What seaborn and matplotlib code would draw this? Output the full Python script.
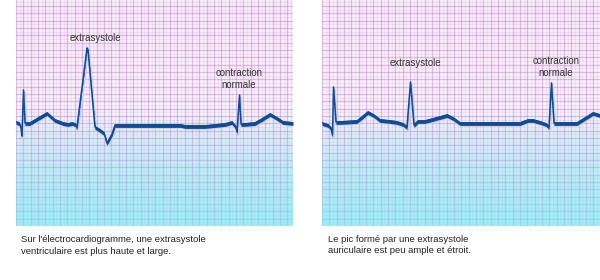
import numpy as np
import pandas as pd
import matplotlib
matplotlib.use("Agg")
import matplotlib.pyplot as plt
import matplotlib.transforms as mtransforms
from matplotlib.colors import LinearSegmentedColormap
from matplotlib.ticker import MultipleLocator, FixedLocator
import seaborn as sns

# ---- data (time and amplitude, in chart-paper pixels; amplitude relative to baseline) ----
t_ventricular = [0, 3, 5, 6, 7.5, 9, 10, 14, 24, 31, 39, 47, 52, 56, 59, 61, 71, 72, 79, 84, 88,
                 91, 96, 99, 101, 105, 165, 169, 189, 209, 216, 220, 221, 223.5, 225, 228,
                 239, 246, 254, 261, 267, 277]
a_ventricular = [1, 0, -4, -13, 33, 0, 0, 0, 6, 10, 3, 0, -1, 0, -1, -4, 75, 73, -4, -7, -10,
                 -20, -11, -2, -2, -2, -2, -3, -3, -1, 1, -4, -9, 28, -1, -1,
                 0, 4, 9, 5, 1, 0]

t_auricular = [0, 6, 9, 10.5, 11.5, 14, 18, 35, 40, 46, 53, 58, 68, 75, 81, 85, 88.5, 92, 96,
               103, 118, 125, 131, 138, 198, 206, 211, 218, 224, 227, 229.5, 232, 235, 255,
               263, 271, 278]
a_auricular = [0, -2, -5, -12, 36, 1, 1, 2, 6, 11, 7, 3, 2, 1, -1, -4, 41, -2, 2,
               2, 6, 8, 5, 0, 0, 3, 3, 1, -1, -4, 40, 0, 0, 0,
               5, 10, 8]

labels_extra = ["extrasystole", "extrasystole"]
labels_normal = ["contraction\nnormale", "contraction\nnormale"]
captions = ["Sur l'électrocardiogramme, une extrasystole\nventriculaire est plus haute et large.",
            "Le pic formé par une extrasystole\nauriculaire est peu ample et étroit."]

# ---- style ----
sns.set_style("white")
plt.rcParams['font.family'] = ['Liberation Sans', 'DejaVu Sans']

W, H, DPI = 600, 280, 100
fig = plt.figure(figsize=(W / DPI, H / DPI), dpi=DPI)

bg_cmap = LinearSegmentedColormap.from_list(
    "ecgbg",
    [(0.0, "#fcf0fc"), (0.40, "#fdf5fd"), (0.50, "#f8f7fd"), (0.58, "#e8f4fd"),
     (0.72, "#cef2fc"), (1.0, "#96f2f9")])

LINE = "#164a8e"
SHADOW = "#c4d0e6"

panels = [
    dict(left=16, width=277, t=t_ventricular, a=a_ventricular,
         extra=(79, 85), normal=(223, 44)),
    dict(left=322, width=278, t=t_auricular, a=a_auricular,
         extra=(93, 60), normal=(234, 56)),
]

YTOP, YBOT = 123, -103  # amplitude range visible (pixels above/below baseline)

# cyan veil over the lower grid so its lines turn lavender-blue
ramp = np.clip((np.linspace(0, 1, 256) - 0.5) / 0.5, 0, 1)
veil = np.zeros((256, 1, 4))
veil[..., 0] = 0.62
veil[..., 1] = 0.95
veil[..., 2] = 0.98
veil[..., 3] = (0.45 * ramp).reshape(-1, 1)

for i, p in enumerate(panels):
    ax = fig.add_axes([p["left"] / W, 54 / H, p["width"] / W, 226 / H])
    ax.set_xlim(0, p["width"])
    ax.set_ylim(YBOT, YTOP)

    grad = np.linspace(0, 1, 256).reshape(-1, 1)
    ax.imshow(grad, aspect="auto", cmap=bg_cmap, extent=[0, p["width"], YBOT, YTOP],
              origin="upper", zorder=0, interpolation="bilinear")
    ax.imshow(veil, aspect="auto", extent=[0, p["width"], YBOT, YTOP],
              origin="upper", zorder=1, interpolation="bilinear")

    step = 7.33
    ax.xaxis.set_major_locator(MultipleLocator(step))
    ax.xaxis.set_minor_locator(MultipleLocator(step / 2))
    yt = YTOP + 1.3 - step * np.arange(0, 32)
    ax.yaxis.set_major_locator(FixedLocator(yt))
    ax.yaxis.set_minor_locator(FixedLocator(yt - step / 2))
    ax.grid(True, which="major", color="#b070c0", alpha=0.40, linewidth=1.0)
    ax.grid(True, which="minor", color="#c890d0", alpha=0.18, linewidth=0.9)
    ax.set_axisbelow(True)
    ax.tick_params(which="both", length=0, labelbottom=False, labelleft=False)
    for s in ax.spines.values():
        s.set_visible(False)

    df = pd.DataFrame({"t": p["t"], "a": p["a"]})
    sh = mtransforms.offset_copy(ax.transData, fig=fig, x=0.6, y=-1.8, units="points")
    sns.lineplot(data=df, x="t", y="a", ax=ax, sort=False, estimator=None,
                 color=SHADOW, linewidth=2.0, transform=sh, zorder=2)
    ax.fill_between(df["t"], df["a"] - 2.4, df["a"] + 1.4, color=LINE, linewidth=0, zorder=3)
    sns.lineplot(data=df, x="t", y="a", ax=ax, sort=False, estimator=None,
                 color=LINE, linewidth=1.1, zorder=3)
    ax.set_xlabel("")
    ax.set_ylabel("")
    ax.set_xlim(0, p["width"])
    ax.set_ylim(YBOT, YTOP)

    ax.text(p["extra"][0], p["extra"][1], labels_extra[i], fontsize=6.9, color="#333333",
            ha="center", va="center", zorder=4)
    ax.text(p["normal"][0], p["normal"][1], labels_normal[i], fontsize=6.9, color="#333333",
            ha="center", va="center", linespacing=1.25, zorder=4)

fig.text(21 / W, 1 - 235 / H, captions[0], fontsize=6.8, color="#222222",
         ha="left", va="top", linespacing=1.45)
fig.text(328 / W, 1 - 235 / H, captions[1], fontsize=6.8, color="#222222",
         ha="left", va="top", linespacing=1.35)

fig.savefig("out.png", dpi=DPI, facecolor="white")
